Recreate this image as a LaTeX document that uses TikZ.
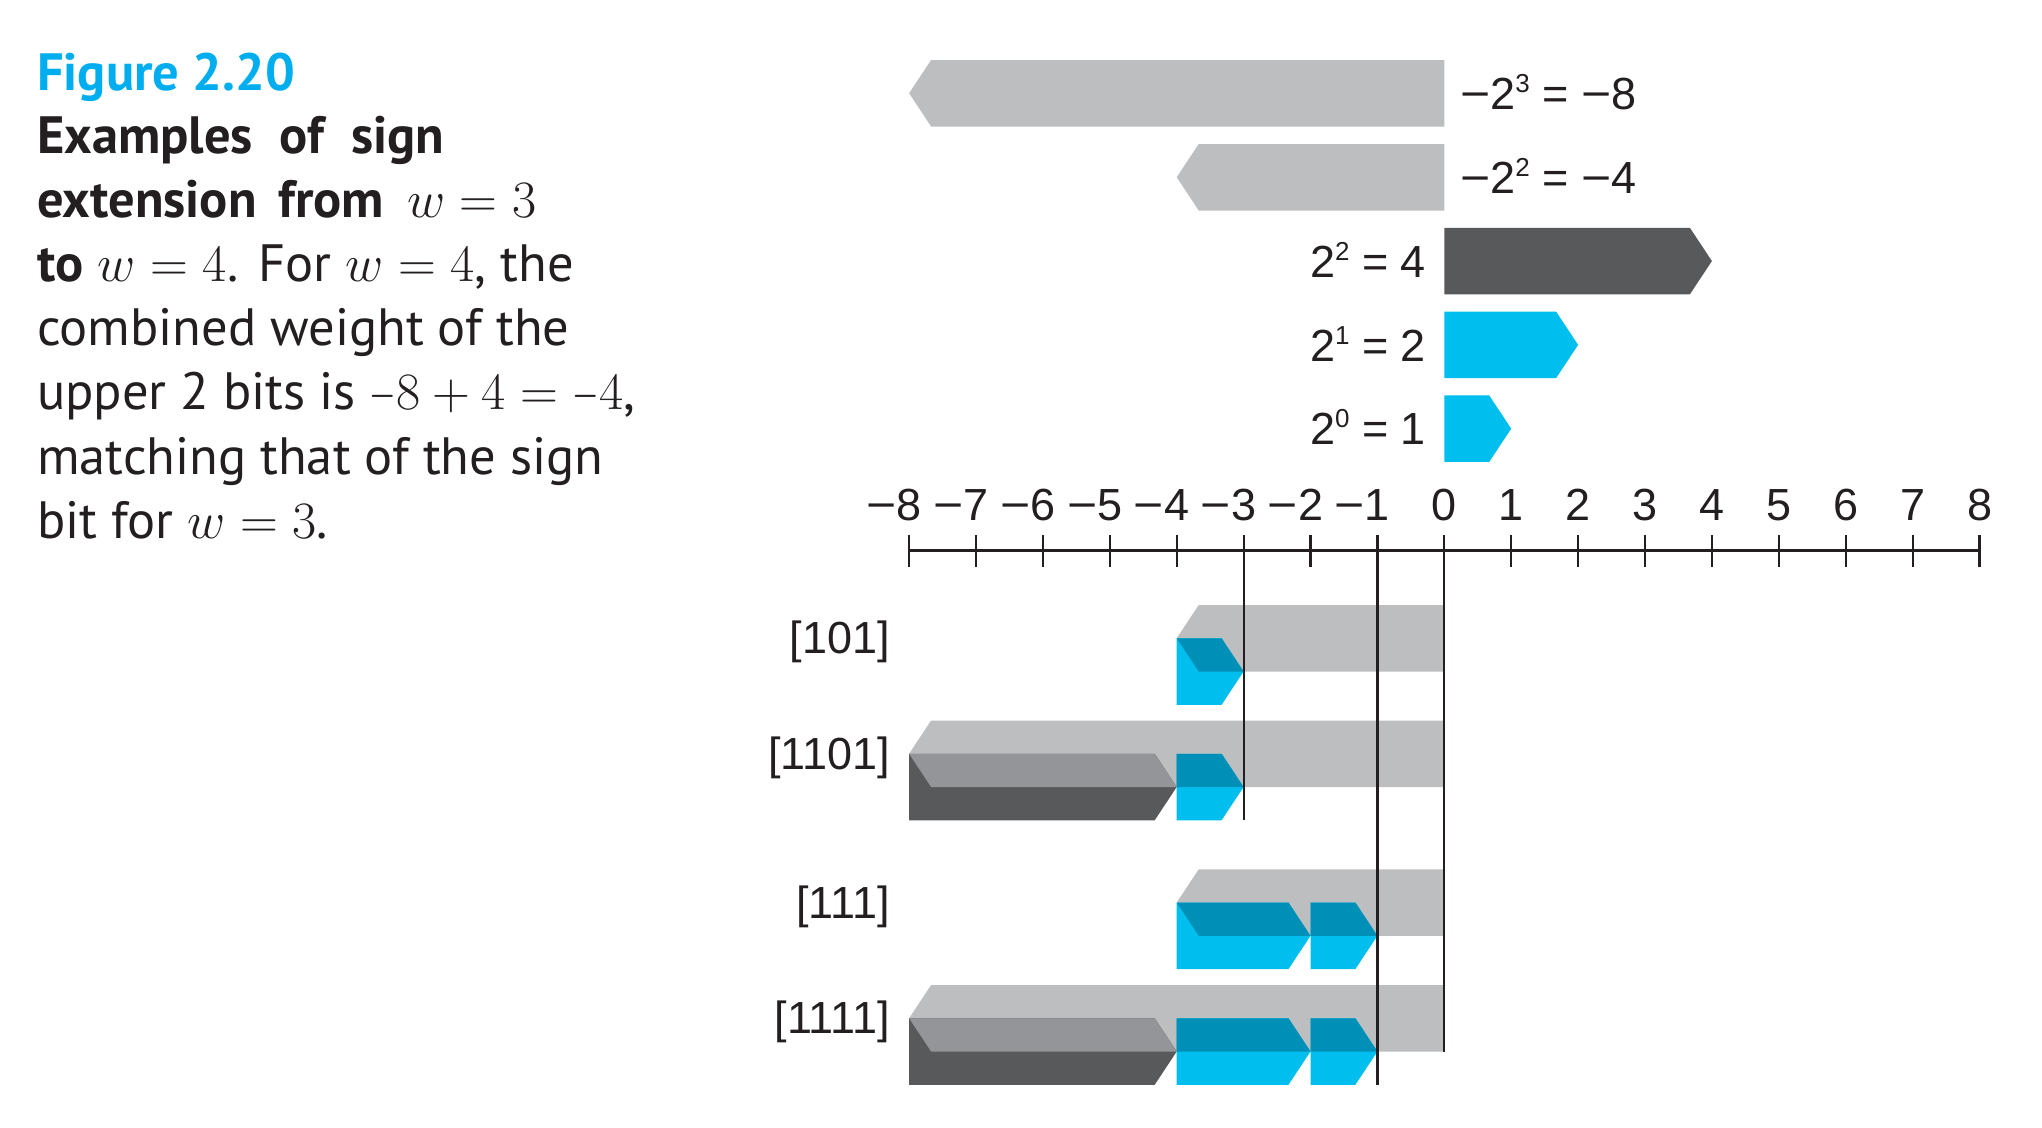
\RequirePackage{fix-cm}
\documentclass[tikz,border=0pt]{standalone}
\usepackage[no-math]{fontspec}
\setmainfont{PT Sans}
\newfontfamily\labfont{Liberation Sans}
\definecolor{txt}{HTML}{231F20}
\definecolor{figcyan}{HTML}{00AEEF}
\definecolor{lgray}{HTML}{BCBEC0}
\definecolor{mgray}{HTML}{939598}
\definecolor{dgray}{HTML}{58595B}
\definecolor{cyanA}{HTML}{00BFEF}
\definecolor{cyanB}{HTML}{0090B7}
\newcommand\capfont{\fontsize{52.5}{63}\selectfont}
\newcommand\labsize{\labfont\fontsize{45}{52}\selectfont}
\newcommand\sups[1]{\raisebox{17pt}{\fontsize{26}{26}\selectfont #1}}
\newcommand\mn{\scalebox{1.15}[1]{−}}
\newcommand\smin{\mathord{\scalebox{0.65}[1]{$-$}}}
\def\dd{0.329}
\def\hh{66.5}
\newcommand\bitR[3]{(#1,#3) -- ({#2-\dd},#3) -- (#2,{#3+0.5*\hh}) -- ({#2-\dd},{#3+\hh}) -- (#1,{#3+\hh}) -- cycle}
\newcommand\bitL[3]{(#2,#3) -- ({#1+\dd},#3) -- (#1,{#3+0.5*\hh}) -- ({#1+\dd},{#3+\hh}) -- (#2,{#3+\hh}) -- cycle}
\begin{document}
\begin{tikzpicture}[x=1pt,y=-1pt,
  capt/.style={inner sep=0pt,anchor=base west,font=\capfont,text=txt},
  lab/.style={inner sep=0pt,font=\labsize,text=txt},
  axisline/.style={line width=3pt,draw=txt},
  tickline/.style={line width=2.2pt,draw=txt},
  vline/.style={line width=2.2pt,draw=txt}]
\useasboundingbox[fill=white] (0,0) rectangle (2042,1127);
% caption
\node[capt,text=figcyan] (fig) at (37,90.5) {\bfseries Figure 2.20};
\node[capt] (c1) at (37,153) {\makebox[407pt][s]{\bfseries Examples of sign}};
\node[capt] (c2) at (37,217) {\makebox[499pt][s]{\textbf{extension from} \mbox{$w=3$}}};
\node[capt] (c3) at (37,281.2) {\makebox[537pt][s]{\textbf{to} \mbox{$w=4$}. For \mbox{$w=4$}, the}};
\node[capt] (c4) at (37,345.4) {combined weight of the};
\node[capt] (c5) at (37,409.7) {upper 2 bits is $\smin8+4=\smin4$,};
\node[capt] (c6) at (37,474) {matching that of the sign};
\node[capt] (c7) at (37,538.3) {bit for $w=3$.};
\begin{scope}[xshift=1444.3pt,x=66.9pt]
% top weight bars
\fill[lgray] \bitL{-8}{0}{60};
\fill[lgray] \bitL{-4}{0}{144};
\fill[dgray] \bitR{0}{4}{227.8};
\fill[cyanA] \bitR{0}{2}{311.6};
\fill[cyanA] \bitR{0}{1}{395.4};
% axis
\draw[axisline] (-8,550.7) -- (8,550.7);
\foreach \i in {-8,...,8} \draw[tickline] (\i,535) -- (\i,567);
\foreach \i in {1,...,8} {
  \node[lab,anchor=base] (axm\i) at (-\i,520.7) {\llap{\mn}\i};
  \node[lab,anchor=base] (axp\i) at (\i,520.7) {\i};
}
\node[lab,anchor=base] (ax0) at (0,520.7) {0};
% row [101]
\fill[lgray] \bitL{-4}{0}{605};
\fill[cyanA] \bitR{-4}{-3}{638.25};
\begin{scope}\clip \bitL{-4}{0}{605}; \fill[cyanB] \bitR{-4}{-3}{638.25}; \end{scope}
% row [1101]
\fill[lgray] \bitL{-8}{0}{720.5};
\fill[dgray] \bitR{-8}{-4}{753.75};
\fill[cyanA] \bitR{-4}{-3}{753.75};
\begin{scope}\clip \bitL{-8}{0}{720.5};
  \fill[mgray] \bitR{-8}{-4}{753.75};
  \fill[cyanB] \bitR{-4}{-3}{753.75}; \end{scope}
% row [111]
\fill[lgray] \bitL{-4}{0}{869.3};
\fill[cyanA] \bitR{-4}{-2}{902.55};
\fill[cyanA] \bitR{-2}{-1}{902.55};
\begin{scope}\clip \bitL{-4}{0}{869.3};
  \fill[cyanB] \bitR{-4}{-2}{902.55};
  \fill[cyanB] \bitR{-2}{-1}{902.55}; \end{scope}
% row [1111]
\fill[lgray] \bitL{-8}{0}{985};
\fill[dgray] \bitR{-8}{-4}{1018.25};
\fill[cyanA] \bitR{-4}{-2}{1018.25};
\fill[cyanA] \bitR{-2}{-1}{1018.25};
\begin{scope}\clip \bitL{-8}{0}{985};
  \fill[mgray] \bitR{-8}{-4}{1018.25};
  \fill[cyanB] \bitR{-4}{-2}{1018.25};
  \fill[cyanB] \bitR{-2}{-1}{1018.25}; \end{scope}
% vertical reference lines
\draw[vline] (-3,535) -- (-3,820.25);
\draw[vline] (-1,535) -- (-1,1084.75);
\draw[vline] (0,535) -- (0,1051.5);
\end{scope}
% weight labels
\node[lab,anchor=base west] (w8) at (1460,109.4) {\mn2\sups{3} = \mn8};
\node[lab,anchor=base west] (w4n) at (1460,193.4) {\mn2\sups{2} = \mn4};
\node[lab,anchor=base east] (w4) at (1426,277.2) {2\sups{2} = 4};
\node[lab,anchor=base east] (w2) at (1426,361) {2\sups{1} = 2};
\node[lab,anchor=base east] (w1) at (1426,444.8) {2\sups{0} = 1};
% row labels
\node[lab,anchor=base east] (r1) at (890,653.5) {[101]};
\node[lab,anchor=base east] (r2) at (890,769) {[1101]};
\node[lab,anchor=base east] (r3) at (890,918) {[111]};
\node[lab,anchor=base east] (r4) at (890,1033.5) {[1111]};
\end{tikzpicture}
\end{document}
